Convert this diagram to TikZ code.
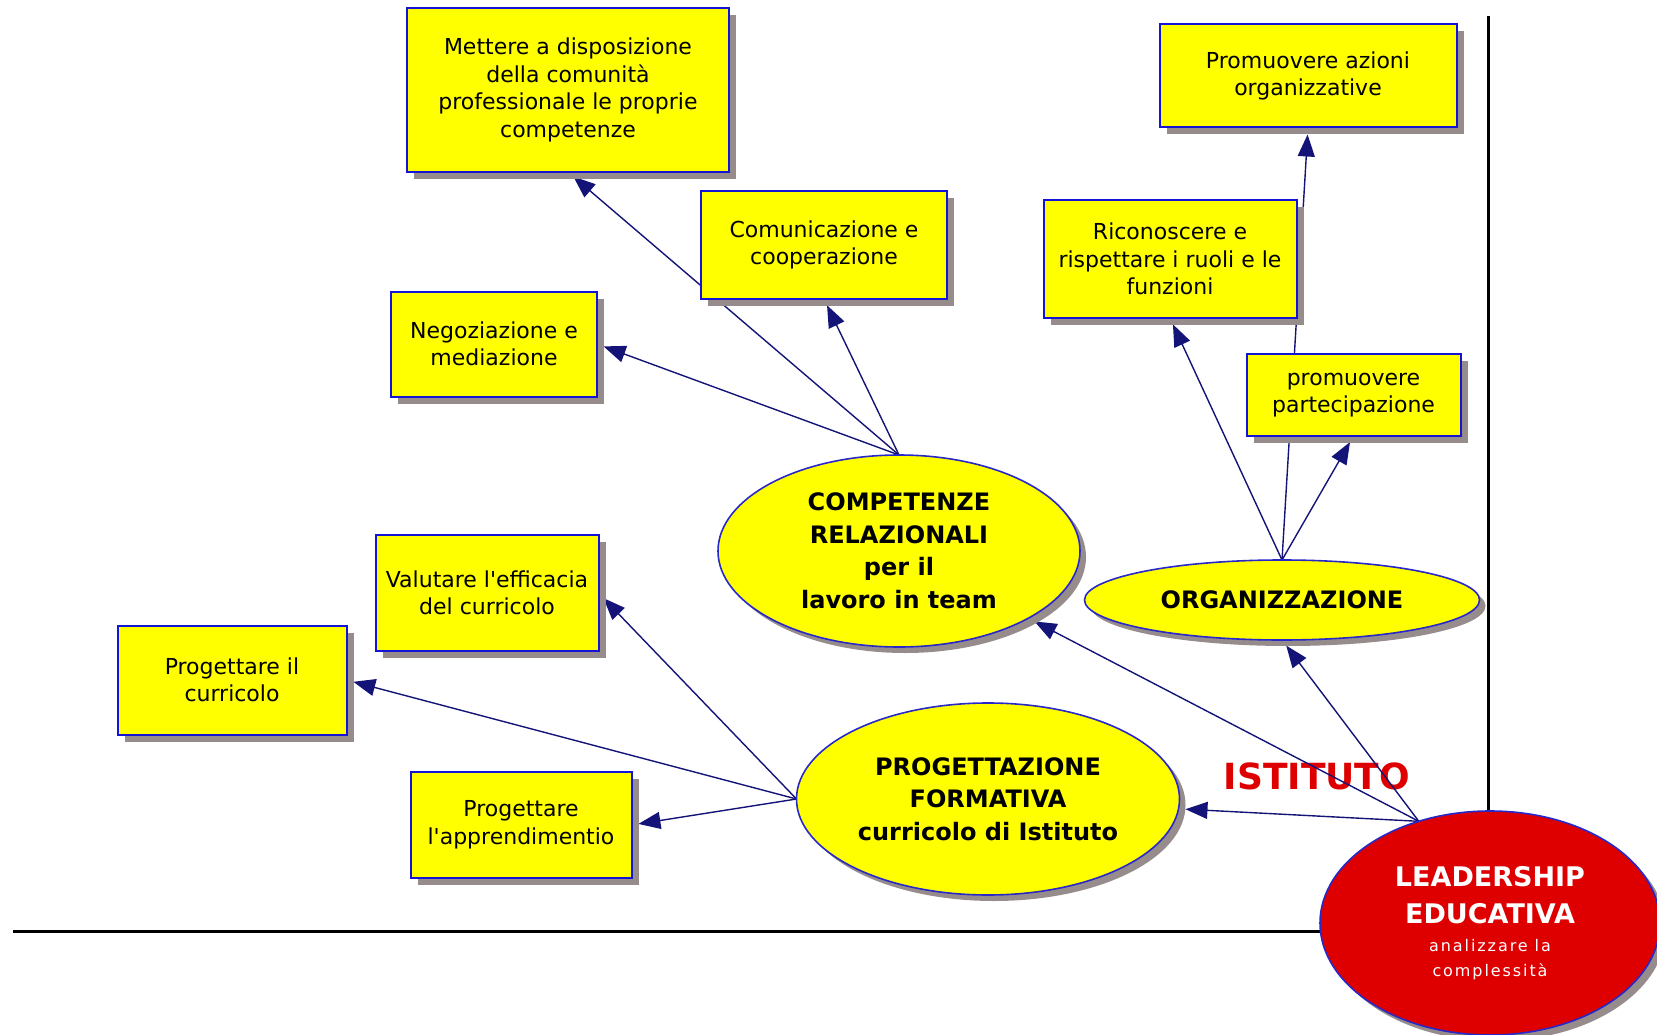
\documentclass[tikz,border=0pt]{standalone}
\usepackage{fontspec}
\setmainfont{DejaVu Sans}
\newfontfamily\spacedfont{DejaVu Sans}[LetterSpace=12]
\usetikzlibrary{arrows.meta, positioning, shapes.geometric, shadows, backgrounds}
\definecolor{boxblue}{RGB}{20,20,215}
\definecolor{ovalblue}{RGB}{40,40,200}
\definecolor{linknavy}{RGB}{20,20,120}
\definecolor{shadowgray}{RGB}{150,140,140}
\definecolor{leaderred}{RGB}{222,0,0}
\definecolor{boxyellow}{RGB}{255,255,0}

\begin{document}
\begin{tikzpicture}[x=1pt, y=-1pt, >={Triangle[length=22pt, width=17pt]}]
    \tikzstyle{box} = [draw=boxblue, line width=2pt, fill=boxyellow, text centered, align=center,
        inner sep=0pt, outer sep=0pt, font={\fontsize{22}{27.5}\selectfont},
        drop shadow={shadow xshift=7pt, shadow yshift=-7pt, fill=shadowgray, opacity=1}]
    \tikzstyle{oval} = [ellipse, draw=ovalblue, line width=1.6pt, fill=boxyellow, align=center,
        inner sep=0pt, outer sep=0pt, font={\fontsize{24}{32.5}\selectfont\bfseries},
        drop shadow={shadow xshift=6pt, shadow yshift=-6pt, fill=shadowgray, opacity=1}]
    \tikzstyle{link} = [->, draw=linknavy, line width=1.4pt, shorten >=7pt]
    \tikzstyle{axis} = [draw=black, line width=3pt]
    \useasboundingbox (0,0) rectangle (1657,1035);

    \node [oval, minimum width=362pt, minimum height=192pt] at (899,551) (compet)
        {COMPETENZE\\RELAZIONALI\\per il\\lavoro in team};
    \node [oval, minimum width=395pt, minimum height=80pt] at (1282,600) (organiz) {ORGANIZZAZIONE};
    \node [oval, minimum width=383pt, minimum height=192pt] at (988,799) (progform)
        {PROGETTAZIONE\\FORMATIVA\\curricolo di Istituto};
    \node [oval, fill=leaderred, text=white, minimum width=340pt, minimum height=224pt,
        font={\fontsize{27}{37}\selectfont\bfseries}] at (1490,923) (leader)
        {LEADERSHIP\\EDUCATIVA\\[-9pt]{\spacedfont\mdseries\fontsize{16}{25}\selectfont analizzare la}\\[-12pt]{\spacedfont\mdseries\fontsize{16}{25}\selectfont complessità}};

    \node [box, minimum width=322pt, minimum height=164pt] at (568,90) (mettere)
        {Mettere a disposizione\\della comunità\\professionale  le proprie\\competenze};
    \node [box, minimum width=246pt, minimum height=108pt, below right=19pt and -28pt of mettere] (comunic)
        {Comunicazione e\\cooperazione};
    \node [box, minimum width=206pt, minimum height=105pt] at (494,344) (negoz) {Negoziazione e\\mediazione};
    \node [box, minimum width=297pt, minimum height=103pt] at (1308,76) (promaz)
        {Promuovere azioni\\organizzative};
    \node [box, minimum width=253pt, minimum height=118pt] at (1170,259) (ricon)
        {Riconoscere e\\rispettare i ruoli e le\\funzioni};
    \node [box, minimum width=214pt, minimum height=82pt, below right=36pt and -50pt of ricon] (partec)
        {promuovere\\partecipazione};
    \node [box, minimum width=223pt, minimum height=116pt] at (487,593) (valut)
        {Valutare l\textquotesingle efficacia\\del curricolo};
    \node [box, minimum width=229pt, minimum height=109pt] at (232,680) (progcur) {Progettare il\\curricolo};
    \node [box, minimum width=221pt, minimum height=106pt] at (521,825) (apprend)
        {Progettare\\l\textquotesingle apprendimentio};

    \begin{pgfonlayer}{background}
        \coordinate (xstart) at (13,931);
        \coordinate (ystart) at (1488,16);
        \draw [axis] (xstart) -- (xstart -| leader.center);
        \draw [axis] (ystart) -- (ystart |- leader.center);
        \node [text=leaderred, inner sep=0pt, font={\fontsize{36}{40}\selectfont\bfseries}] at (1317,776) (istituto) {ISTITUTO};
        \draw [link] (compet.north) -- (mettere.south);
        \draw [link] (compet.north) -- (comunic.south);
        \draw [link] (compet.north) -- (negoz.east);
        \draw [link] (organiz.north) -- (promaz.south);
        \draw [link] (organiz.north) -- (ricon.south);
        \draw [link] (organiz.north) -- (partec.south);
        \draw [link] (leader.125) -- (compet);
        \draw [link] (leader.125) -- (organiz.south);
        \draw [link] (leader.125) -- (progform);
        \draw [link] (progform.west) -- (valut.east);
        \draw [link] (progform.west) -- (progcur.east);
        \draw [link] (progform.west) -- (apprend.east);
    \end{pgfonlayer}
\end{tikzpicture}
\end{document}
